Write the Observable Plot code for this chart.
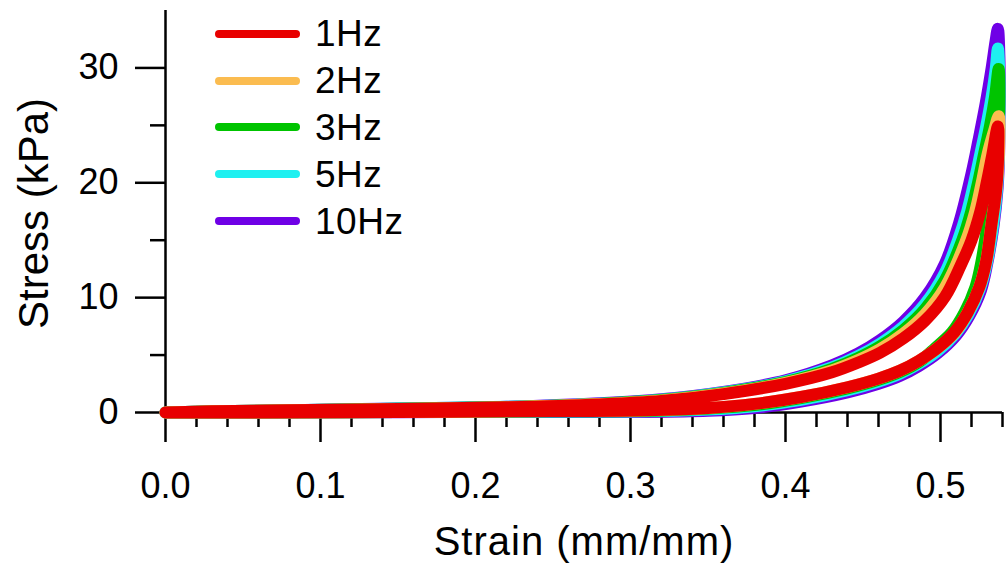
<!DOCTYPE html>
<html><head><meta charset="utf-8">
<script src="https://cdn.jsdelivr.net/npm/d3@7"></script>
<script src="https://cdn.jsdelivr.net/npm/@observablehq/plot@0.6"></script>
<style>
body{margin:0;background:#fff;}
#wrap{position:relative;width:1006px;height:576px;font-family:"Liberation Sans",Arial,Helvetica,sans-serif;}
#legend{position:absolute;left:215px;top:10.5px;}
.row{display:flex;align-items:center;height:46.8px;}
.row svg{display:block;}
.row span{font-size:37px;color:#000;margin-left:15px;line-height:1;letter-spacing:0.5px;}
</style></head><body><div id="wrap"></div>
<script>
const series = ["1Hz", "2Hz", "3Hz", "5Hz", "10Hz"];
const colors = ["#e80000", "#fbbc50", "#00c400", "#1ef0f0", "#6f00e6"];

const xLabel = "Strain (mm/mm)";
const yLabel = "Stress (kPa)";
const xMajorTicks = [0, 0.1, 0.2, 0.3, 0.4, 0.5];
const xMinorTicks = [0.02,0.04,0.06,0.08,0.12,0.14,0.16,0.18,0.22,0.24,0.26,0.28,0.32,0.34,0.36,0.38,0.42,0.44,0.46,0.48,0.52,0.54];
const yMajorTicks = [0, 10, 20, 30];
const yMinorTicks = [5, 15, 25];

// 1Hz loop (loading then unloading)
const strain1Hz = [0,.03,.08,.15,.22,.28,.32,.36,.40,.43,.447,.461,.476,.490,.503,.513,.520,.5257,.5298,.5335,.537,
  .5372,.536,.533,.5295,.525,.5175,.509,.498,.486,.474,.46,.44,.41,.38,.35,.31,.25,.15,.05,0];
const stress1Hz = [0,.1,.2,.3,.45,.7,1.0,1.6,2.5,3.5,4.35,5.2,6.45,8.0,10.1,12.8,15.0,17.5,20,22.5,24.9,
  22.5,19.5,16.5,13.2,10.9,8.7,7.0,5.6,4.5,3.65,2.95,2.2,1.35,.75,.4,.2,.12,.05,0,0];

// 2Hz loop
const strain2Hz = [0,.03,.08,.15,.22,.28,.32,.36,.40,.43,.447,.461,.476,.490,.503,.5166,.5224,.5266,.5304,.5345,.5375,
  .5378,.536,.533,.5295,.525,.5175,.5095,.498,.486,.474,.46,.44,.41,.38,.35,.31,.25,.15,.05,0];
const stress2Hz = [0,.1,.2,.31,.46,.73,1.04,1.65,2.58,3.67,4.57,5.51,6.86,8.56,10.91,15,17.5,20,22.5,24.5,25.8,
  23,19.5,16.5,13.2,10.9,8.7,7.0,5.6,4.5,3.65,2.95,2.2,1.35,.75,.4,.2,.12,.05,0,0];

// 3Hz loop
const strain3Hz = [0,.03,.08,.15,.22,.28,.32,.36,.40,.43,.447,.461,.476,.490,.503,.514,.5198,.5242,.5281,.532,.5352,.5375,
  .538,.5375,.5358,.5338,.5305,.5265,.5225,.5155,.5075,.4965,.486,.474,.46,.44,.41,.38,.35,.31,.25,.15,.05,0];
const stress3Hz = [0,.1,.2,.33,.48,.75,1.08,1.7,2.65,3.8,4.75,5.75,7.18,9.0,11.55,15,17.5,20,22.5,25,27.5,29.9,
  27.5,25,22.5,19.5,16.5,13.2,10.9,8.7,7.0,5.6,4.4,3.55,2.85,2.1,1.25,.65,.35,.15,.1,.05,0,0];

// 5Hz loop
const strain5Hz = [0,.03,.08,.15,.22,.28,.32,.36,.40,.43,.447,.461,.476,.490,.503,.5113,.5172,.5217,.5257,.5296,.533,.5357,.537,
  .538,.538,.5377,.5365,.534,.530,.5255,.518,.5095,.498,.486,.474,.46,.44,.41,.38,.35,.31,.25,.15,.05,0];
const stress5Hz = [0,.1,.2,.34,.49,.77,1.11,1.75,2.72,3.93,4.93,5.99,7.49,9.44,12.19,15,17.5,20,22.5,25,27.5,30,31.7,
  29,26,23,19.5,16.4,13.1,10.8,8.55,6.85,5.35,4.25,3.4,2.7,1.95,1.1,.55,.25,.1,.08,.04,0,0];

// 10Hz loop
const strain10Hz = [0,.03,.08,.15,.22,.28,.32,.36,.40,.43,.447,.461,.476,.490,.503,.512,.520,.5245,.529,.533,.5355,.537,
  .538,.5382,.538,.5378,.5368,.5343,.5302,.526,.5185,.510,.498,.486,.474,.46,.44,.41,.38,.35,.31,.25,.15,.05,0];
const stress10Hz = [0,.1,.2,.35,.5,.8,1.15,1.8,2.8,4.1,5.15,6.3,7.9,10.0,13.0,16.5,20.8,23.7,26.8,30,32.3,33.4,
  31,28,25,22.5,19.5,16.3,13.0,10.6,8.4,6.7,5.15,4.05,3.2,2.5,1.75,.95,.4,.15,.05,.05,.03,0,0];

const strains = [strain1Hz, strain2Hz, strain3Hz, strain5Hz, strain10Hz];
const stresses = [stress1Hz, stress2Hz, stress3Hz, stress5Hz, stress10Hz];

const drawOrder = [4, 3, 2, 1, 0];
const curveMarks = drawOrder.map(i =>
  Plot.line(d3.zip(strains[i], stresses[i]), {
    x: d => d[0], y: d => d[1], stroke: colors[i], strokeWidth: 12,
    curve: "catmull-rom", strokeLinejoin: "round", strokeLinecap: "round"
  })
);

const chart = Plot.plot({
  width: 1006, height: 576,
  marginLeft: 165, marginRight: 4, marginTop: 10, marginBottom: 164,
  style: {fontFamily: "'Liberation Sans', Arial, Helvetica, sans-serif", background: "white", color: "black", overflow: "visible"},
  x: {domain: [0, 0.54]},
  y: {domain: [0, 35]},
  marks: [
    Plot.axisX({ticks: xMajorTicks, tickSize: 30, tickPadding: 30, tickFormat: d3.format(".1f"), fontSize: 36, strokeWidth: 2.5, label: null}),
    Plot.axisX({ticks: xMinorTicks, tickSize: 15, tickFormat: () => "", strokeWidth: 2.5, label: null}),
    Plot.axisY({ticks: yMajorTicks, tickSize: 30, tickPadding: 17, fontSize: 36, strokeWidth: 2.5, label: null}),
    Plot.axisY({ticks: yMinorTicks, tickSize: 15, tickFormat: () => "", strokeWidth: 2.5, label: null}),
    Plot.ruleX([0], {strokeWidth: 2.5}),
    Plot.ruleY([0], {strokeWidth: 2.5}),
    ...curveMarks,
    Plot.text([xLabel], {text: d => d, frameAnchor: "bottom", dy: 130, fontSize: 40, lineAnchor: "middle", textAnchor: "middle"}),
    Plot.text([yLabel], {text: d => d, frameAnchor: "left", dx: -131, dy: 2, rotate: -90, fontSize: 42, lineAnchor: "middle", textAnchor: "middle"})
  ]
});
d3.select(chart).selectAll("text").filter(function(){ return this.textContent === xLabel; }).attr("letter-spacing", "1px");

const wrap = document.getElementById("wrap");
wrap.appendChild(chart);

const legend = document.createElement("div");
legend.id = "legend";
series.forEach((name, i) => {
  const row = document.createElement("div");
  row.className = "row";
  row.innerHTML = `<svg width="85" height="12"><line x1="4" y1="6" x2="81" y2="6" stroke="${colors[i]}" stroke-width="8" stroke-linecap="round"/></svg><span>${name}</span>`;
  legend.appendChild(row);
});
wrap.appendChild(legend);
</script></body></html>
